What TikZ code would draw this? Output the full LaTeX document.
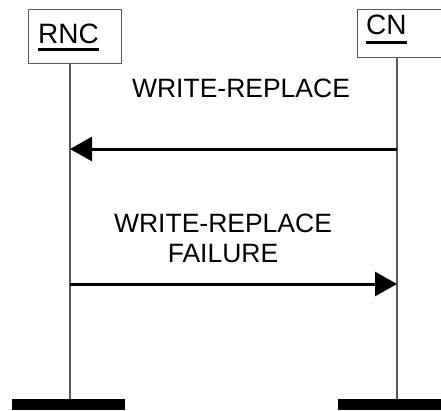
\documentclass[tikz,border=0pt]{standalone}
\usepackage{fontspec}
\setmainfont{Liberation Sans}
\usetikzlibrary{arrows.meta}
\definecolor{linegray}{gray}{0.35}
\tikzset{
  entity/.style={draw=linegray, line width=1pt, fill=white},
  lifeline/.style={draw=linegray, line width=1.2pt},
  endbar/.style={fill=black, draw=none},
  msg/.style={line width=3pt, -{Triangle[length=22pt,width=24pt]}},
  lbl/.style={font=\fontsize{26.5}{30}\selectfont, inner sep=0pt, anchor=base},
  ename/.style={font=\fontsize{28}{30}\selectfont, inner sep=0pt, anchor=base west},
}
\begin{document}
\begin{tikzpicture}[x=1pt,y=-1pt]
\useasboundingbox (0,0) rectangle (441,410);
% entity boxes
\draw[entity] (28,9) rectangle (121,63);
\draw[entity] (357,9) rectangle (450,57);
\node[ename] (rnc) at (38,43) {RNC};
\node[ename] (cn) at (366,34) {CN};
\draw[line width=3pt] ([yshift=-6pt]rnc.base west) -- ([yshift=-6pt]rnc.base east);
\draw[line width=3pt] ([yshift=-8pt]cn.base west) -- ([yshift=-8pt]cn.base east);
% lifelines
\coordinate (rtop) at (70,63);
\coordinate (rbot) at (70,399);
\coordinate (ctop) at (397,57);
\coordinate (cbot) at (397,399);
\draw[lifeline] (rtop) -- (rbot);
\draw[lifeline] (ctop) -- (cbot);
% end bars
\fill[endbar] (12,399) rectangle (125,410);
\fill[endbar] (338,399) rectangle (445,410);
% messages
\coordinate (m1c) at (397,149);
\coordinate (m1r) at (70,149);
\draw[msg] (m1c) -- (m1r);
\node[lbl] (l1) at (241,97) {WRITE-REPLACE};
\coordinate (m2r) at (70,284);
\coordinate (m2c) at (397,284);
\draw[msg] (m2r) -- (m2c);
\node[lbl] (l2a) at (223,232) {WRITE-REPLACE};
\node[lbl] (l2b) at (223,262) {FAILURE};
\end{tikzpicture}
\end{document}
